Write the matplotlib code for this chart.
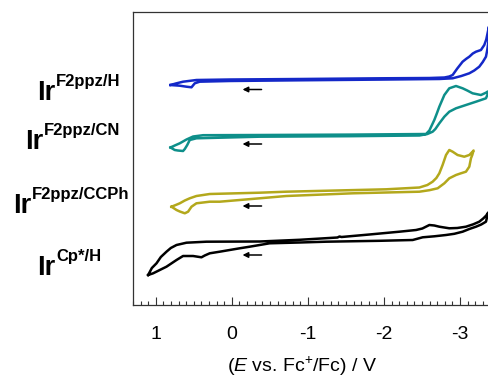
import numpy as np
import matplotlib
matplotlib.use("Agg")
import matplotlib.pyplot as plt
from matplotlib.ticker import MultipleLocator

plt.rcParams['font.family'] = ['Liberation Sans', 'DejaVu Sans']
plt.rcParams['mathtext.fontset'] = 'custom'
plt.rcParams['mathtext.rm'] = 'Liberation Sans'
plt.rcParams['mathtext.it'] = 'Liberation Sans:italic'
plt.rcParams['mathtext.bf'] = 'Liberation Sans:bold'
plt.rcParams['axes.unicode_minus'] = False

E_h = [0.807, 0.738, 0.642, 0.466, 0.029, -0.890, -1.940, -2.596, -2.793, -2.858, -2.902,
       -2.963, -3.033, -3.081, -3.121, -3.167, -3.209, -3.274, -3.318, -3.344, -3.361, -3.379,
       -3.377, -3.370, -3.357, -3.340, -3.298, -3.252, -3.186, -3.121, -3.016, -2.902, -2.727,
       -1.940, -0.890, 0.029, 0.423, 0.488, 0.531, 0.597, 0.685, 0.777, 0.807]
i_h = [219, 220.5, 222.3, 224, 224.5, 225, 225.7, 226, 226.5, 227.5, 229,
       235.5, 242.3, 245.2, 247.3, 250.5, 252.3, 254, 259, 264.5, 270.7, 277.3,
       269, 261, 254, 247.3, 242, 237.3, 233.5, 230.7, 228, 225.7, 225,
       224.4, 223.7, 223, 222.3, 220.7, 216.7, 217.3, 218.3, 218.8, 219]

E_cn = [0.807, 0.751, 0.685, 0.597, 0.510, 0.379, -0.365, -1.546, -2.552, -2.596, -2.661,
        -2.694, -2.727, -2.793, -2.858, -2.946, -3.033, -3.094, -3.164, -3.274, -3.340, -3.364,
        -3.361, -3.340, -3.209, -3.077, -2.946, -2.858, -2.793, -2.727, -2.675, -2.639, -2.570,
        -2.465, -1.546, -0.365, 0.466, 0.554, 0.587, 0.619, 0.642, 0.711, 0.751, 0.807]
i_cn = [156.5, 158.5, 160.7, 164.5, 167.5, 168.8, 169, 169.4, 170, 173.5, 184,
        190.5, 197.3, 209, 215.7, 218, 215.7, 213.5, 210.7, 209, 211.3, 212.5,
        209.5, 205.7, 202.3, 199, 195.7, 192.3, 187.3, 180.7, 175, 172.3, 170,
        168.5, 167.8, 167.3, 165.7, 164, 159, 155, 153, 153.5, 154, 156.5]

E_ccph = [0.794, 0.738, 0.685, 0.619, 0.554, 0.466, 0.291, -0.365, -0.715, -2.028, -2.465,
          -2.570, -2.639, -2.688, -2.727, -2.770, -2.815, -2.858, -2.902, -2.967, -3.055, -3.121,
          -3.164, -3.177, -3.160, -3.143, -3.121, -3.077, -3.003, -2.946, -2.858, -2.793, -2.705,
          -2.596, -2.465, -1.589, -0.715, -0.365, 0.160, 0.291, 0.466, 0.531, 0.576, 0.619,
          0.685, 0.728, 0.794]
i_ccph = [97.3, 99, 100.7, 103.5, 105.7, 108, 110, 111.3, 112.3, 114.7, 116.5,
          119, 122.3, 126, 130.7, 139, 149, 154, 152.3, 149, 147.3, 149,
          152.3, 153.5, 149, 145.7, 137.3, 132.3, 130.5, 129, 125.7, 120.7, 115.7,
          113.8, 112.3, 110.7, 108, 105.7, 102.3, 102.3, 100.7, 97.3, 92.3, 90.7,
          92.5, 94, 97.3]

E_cp = [1.101, 1.052, 0.991, 0.934, 0.860, 0.803, 0.728, 0.597, 0.335, -0.365, -0.890,
        -1.388, -1.415, -1.441, -1.808, -2.202, -2.421, -2.504, -2.596, -2.661, -2.727, -2.858,
        -2.963, -3.077, -3.173, -3.252, -3.304, -3.344, -3.370,
        -3.357, -3.340, -3.278, -3.209, -3.121, -3.033, -2.924, -2.815, -2.661, -2.508, -2.377,
        -1.940, -1.240, -0.890, -0.496, -0.234, -0.102, 0.029, 0.160, 0.291, 0.357, 0.400,
        0.510, 0.642, 0.728, 0.860, 0.948, 1.035, 1.101]
i_cp = [29, 36, 40.7, 47, 52.3, 56, 59, 61.3, 62.3, 62.5, 64.2,
        66.5, 67.5, 67, 69.5, 72.3, 74, 75.5, 79, 78.5, 77.3, 75.7,
        76, 77.3, 79.7, 82.3, 85.5, 88.5, 91.5,
        87.5, 82.3, 79.5, 77.3, 75, 72.3, 70.2, 69, 67.7, 66.7, 64,
        63.2, 62.3, 61.5, 60.7, 57.3, 55.7, 54, 52.3, 50.7, 48.5, 46.7,
        48, 48, 44, 37.3, 34, 30.7, 29]

traces = [
    (E_h, i_h, '#1428c8', 'F2ppz/H'),
    (E_cn, i_cn, '#0e8f8a', 'F2ppz/CN'),
    (E_ccph, i_ccph, '#b3a81c', 'F2ppz/CCPh'),
    (E_cp, i_cp, '#000000', 'Cp*/H'),
]
# scan direction arrows: level of each arrow (same units as current)
arrow_y = [214.5, 160, 98, 49]
# label positions in figure pixels (left x, baseline y from top)
label_pos = [(37, 100), (25, 149), (13, 213), (37, 275)]

W, H = 489, 382
fig = plt.figure(figsize=(W / 100, H / 100), dpi=100)
ax = fig.add_axes([133 / W, 77 / H, (W - 133) / W, (305 - 12) / H])

for E, cur, col, lab in traces:
    ax.plot(E, cur, color=col, lw=1.8, solid_joinstyle='round')

for y in arrow_y:
    ax.annotate('', xy=(-0.14, y), xytext=(-0.39, y),
                arrowprops=dict(arrowstyle='-|>', color='k', lw=1.1, mutation_scale=8,
                                shrinkA=0, shrinkB=0))

ax.set_xlim(1.30, -3.38)
ax.set_ylim(-1, 292)
ax.set_yticks([])
ax.xaxis.set_major_locator(MultipleLocator(1))
ax.xaxis.set_minor_locator(MultipleLocator(0.1))
ax.tick_params(axis='x', which='major', direction='in', length=6, width=0.8,
               labelsize=14, pad=15, colors='#333333', labelcolor='black')
ax.tick_params(axis='x', which='minor', direction='in', length=3, width=0.8, colors='#333333')
for s in ['left', 'bottom', 'top']:
    ax.spines[s].set_color('#333333')
    ax.spines[s].set_linewidth(0.9)
ax.spines['right'].set_visible(False)

ax.set_xlabel(r'($\it{E}$ vs. Fc$^{+}$/Fc) / V', fontsize=14)
ax.xaxis.set_label_coords(0.475, -0.17)

fig.canvas.draw()
renderer = fig.canvas.get_renderer()
for (E, cur, col, lab), (lx, ly) in zip(traces, label_pos):
    t = fig.text(lx / W, 1 - ly / H, 'Ir', fontsize=19.5, fontweight='bold', va='baseline')
    bb = t.get_window_extent(renderer)
    fig.text((bb.x1 + 1) / W, 1 - (ly - 14) / H, lab, fontsize=12, fontweight='bold',
             va='baseline')

fig.savefig('out.png', dpi=100)
